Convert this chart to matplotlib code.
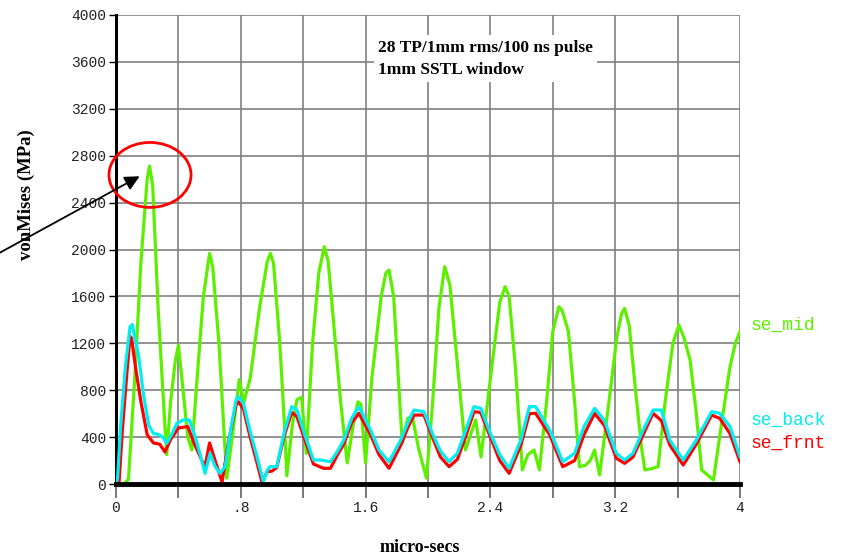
import numpy as np
import matplotlib
matplotlib.use("Agg")
import matplotlib.pyplot as plt
from matplotlib.patches import Ellipse

# se_mid (green)
mid_t = [0.0, 0.05, 0.08, 0.12, 0.16, 0.2, 0.215, 0.235, 0.27, 0.30, 0.325, 0.35, 0.38, 0.40,
         0.43, 0.46, 0.486, 0.52, 0.56, 0.60, 0.62, 0.66, 0.69, 0.71, 0.75, 0.79, 0.82, 0.86,
         0.92, 0.97, 0.99, 1.01, 1.05, 1.08, 1.095, 1.13, 1.16, 1.19, 1.22, 1.26, 1.30, 1.335,
         1.36, 1.40, 1.44, 1.482, 1.52, 1.55, 1.57, 1.60, 1.64, 1.70, 1.73, 1.75, 1.78, 1.81,
         1.835, 1.87, 1.90, 1.94, 1.99, 2.03, 2.07, 2.107, 2.14, 2.19, 2.24, 2.28, 2.306, 2.34,
         2.40, 2.46, 2.494, 2.52, 2.56, 2.605, 2.64, 2.68, 2.714, 2.76, 2.80, 2.839, 2.86, 2.90,
         2.94, 2.971, 3.01, 3.04, 3.068, 3.10, 3.16, 3.21, 3.24, 3.26, 3.29, 3.33, 3.37, 3.39,
         3.43, 3.475, 3.52, 3.57, 3.608, 3.64, 3.68, 3.72, 3.754, 3.83, 3.88, 3.936, 3.97, 4.0]
mid_v = [0, 0, 40, 900, 1900, 2600, 2712, 2550, 1500, 800, 250, 700, 1050, 1185,
         800, 400, 290, 900, 1600, 1967, 1850, 1200, 500, 50, 450, 890, 700, 900,
         1500, 1900, 1967, 1880, 1200, 500, 70, 500, 720, 740, 260, 1200, 1800, 2024,
         1900, 1300, 700, 180, 500, 700, 680, 180, 900, 1600, 1800, 1825, 1600, 900,
         350, 560, 575, 300, 50, 700, 1500, 1854, 1700, 1000, 290, 450, 546, 230,
         900, 1550, 1683, 1600, 1000, 120, 250, 290, 120, 700, 1300, 1512, 1480, 1300,
         700, 148, 160, 200, 290, 77, 700, 1250, 1450, 1498, 1350, 800, 300, 120,
         130, 148, 700, 1200, 1356, 1250, 1058, 600, 120, 34, 500, 1000, 1200, 1300]

# se_back (cyan)
back_t = [0.0, 0.01, 0.03, 0.06, 0.09, 0.105, 0.12, 0.143, 0.175, 0.21, 0.24, 0.275, 0.30,
          0.325, 0.36, 0.39, 0.43, 0.47, 0.507, 0.54, 0.571, 0.603, 0.635, 0.667, 0.70, 0.74,
          0.77, 0.785, 0.817, 0.86, 0.90, 0.945, 0.97, 0.988, 1.03, 1.08, 1.127, 1.16, 1.21,
          1.266, 1.31, 1.375, 1.42, 1.46, 1.51, 1.557, 1.632, 1.686, 1.75, 1.825, 1.87, 1.91,
          1.974, 2.028, 2.08, 2.135, 2.188, 2.24, 2.295, 2.338, 2.40, 2.46, 2.52, 2.595, 2.65,
          2.69, 2.78, 2.864, 2.94, 3.00, 3.068, 3.13, 3.207, 3.26, 3.314, 3.379, 3.443, 3.496,
          3.55, 3.636, 3.72, 3.818, 3.87, 3.936, 4.0]
back_v = [0, 50, 500, 1000, 1340, 1360, 1250, 1115, 773, 500, 432, 420, 400,
          347, 430, 517, 546, 546, 404, 250, 91, 262, 150, 91, 150, 500,
          720, 745, 688, 450, 250, 20, 120, 148, 148, 450, 660, 631, 420,
          205, 205, 190, 280, 375, 560, 660, 460, 290, 190, 375, 520, 631,
          617, 432, 280, 190, 262, 450, 660, 645, 432, 250, 134, 375, 660,
          660, 460, 190, 262, 489, 645, 546, 262, 205, 262, 460, 631, 631,
          375, 205, 375, 617, 603, 489, 233]

# se_frnt (red)
frnt_t = [0.0, 0.02, 0.04, 0.07, 0.09, 0.10, 0.13, 0.16, 0.20, 0.24, 0.28, 0.314, 0.35,
          0.40, 0.46, 0.50, 0.57, 0.60, 0.64, 0.68, 0.72, 0.77, 0.785, 0.817, 0.86, 0.90,
          0.935, 0.97, 1.00, 1.03, 1.08, 1.127, 1.16, 1.21, 1.266, 1.33, 1.375, 1.42, 1.46,
          1.51, 1.557, 1.632, 1.686, 1.75, 1.825, 1.87, 1.91, 1.974, 2.028, 2.08, 2.135, 2.188,
          2.24, 2.295, 2.338, 2.40, 2.46, 2.52, 2.595, 2.65, 2.69, 2.78, 2.864, 2.94, 3.00,
          3.068, 3.13, 3.207, 3.26, 3.314, 3.379, 3.443, 3.496, 3.55, 3.636, 3.72, 3.818,
          3.87, 3.936, 4.0]
frnt_v = [0, 20, 450, 950, 1260, 1240, 950, 700, 420, 350, 340, 273, 380,
          478, 490, 350, 145, 350, 180, 17, 350, 680, 700, 640, 400, 200,
          20, 105, 110, 140, 420, 610, 574, 380, 170, 134, 134, 250, 340,
          520, 603, 420, 250, 134, 330, 480, 588, 588, 400, 230, 148, 210,
          400, 617, 610, 400, 200, 91, 330, 600, 603, 420, 148, 200, 420,
          603, 500, 220, 176, 230, 420, 603, 540, 333, 162, 340, 588,
          560, 430, 190]

yticks = np.arange(0, 4001, 400)
xticks = np.arange(0, 4.01, 0.4)
xlabels = ['0', '', '.8', '', '1.6', '', '2.4', '', '3.2', '', '4']

green = '#5cf000'
cyan = '#00eef2'
red = '#ff0000'

fig = plt.figure(figsize=(8.45, 5.57), dpi=100)
ax = fig.add_axes([116/845, 1 - 484/557, 624/845, 469/557])

ax.plot(mid_t, mid_v, color=green, lw=2.3, zorder=3)
ax.plot(frnt_t, frnt_v, color=red, lw=2.3, zorder=4)
ax.plot(back_t, back_v, color=cyan, lw=2.3, zorder=5)

ax.set_xlim(0, 4)
ax.set_ylim(0, 4000)
ax.set_xticks(xticks)
ax.set_xticklabels(xlabels)
ax.set_yticks(yticks)
ax.set_yticklabels([str(v) for v in yticks])
ax.grid(True, color='#808080', lw=1.2)
ax.set_axisbelow(True)

for s in ['top', 'right']:
    ax.spines[s].set_visible(False)
ax.spines['left'].set_linewidth(2.2)
ax.spines['bottom'].set_linewidth(3.5)
ax.spines['bottom'].set_zorder(6)

ax.tick_params(axis='y', length=5, width=1, pad=2, labelsize=10.5)
ax.tick_params(axis='x', length=10, width=1.2, color='#606060', pad=2, labelsize=10.5)
for lab in ax.get_xticklabels() + ax.get_yticklabels():
    lab.set_family('Liberation Mono')
    lab.set_color('#222222')

ax.set_xlabel('micro-secs', family='Liberation Serif', fontweight='bold', fontsize=13,
              va='center')
ax.xaxis.set_label_coords(0.487, -0.136)
ax.set_ylabel('vonMises (MPa)', family='Liberation Serif', fontweight='bold', fontsize=13.5,
              va='center')
ax.yaxis.set_label_coords(-0.143, 0.616)

ax.text(1.68, 3790, '28 TP/1mm rms/100 ns pulse\n1mm SSTL window',
        family='Liberation Serif', fontweight='bold', fontsize=12.5,
        va='top', ha='left', linespacing=1.5, zorder=7,
        bbox=dict(facecolor='white', edgecolor='none', pad=3))

# series labels at the right
ax.text(4.07, 1356, 'se_mid', color=green, family='Liberation Mono', fontsize=13,
        va='center', clip_on=False)
ax.text(4.07, 546, 'se_back', color=cyan, family='Liberation Mono', fontsize=13,
        va='center', clip_on=False)
ax.text(4.07, 350, 'se_frnt', color=red, family='Liberation Mono', fontsize=13,
        va='center', clip_on=False)

# highlight of the first peak
ell = Ellipse((0.218, 2636), 0.526, 554, fill=False, edgecolor='red', lw=2.0,
              clip_on=False, zorder=8)
ax.add_patch(ell)
ax.annotate('', xy=(0.167, 2636), xycoords='data',
            xytext=(-0.0095, 0.5386), textcoords='figure fraction',
            arrowprops=dict(arrowstyle='-|>', color='black', lw=1.3, mutation_scale=22),
            annotation_clip=False, zorder=9)

fig.savefig('out.png', dpi=100)
